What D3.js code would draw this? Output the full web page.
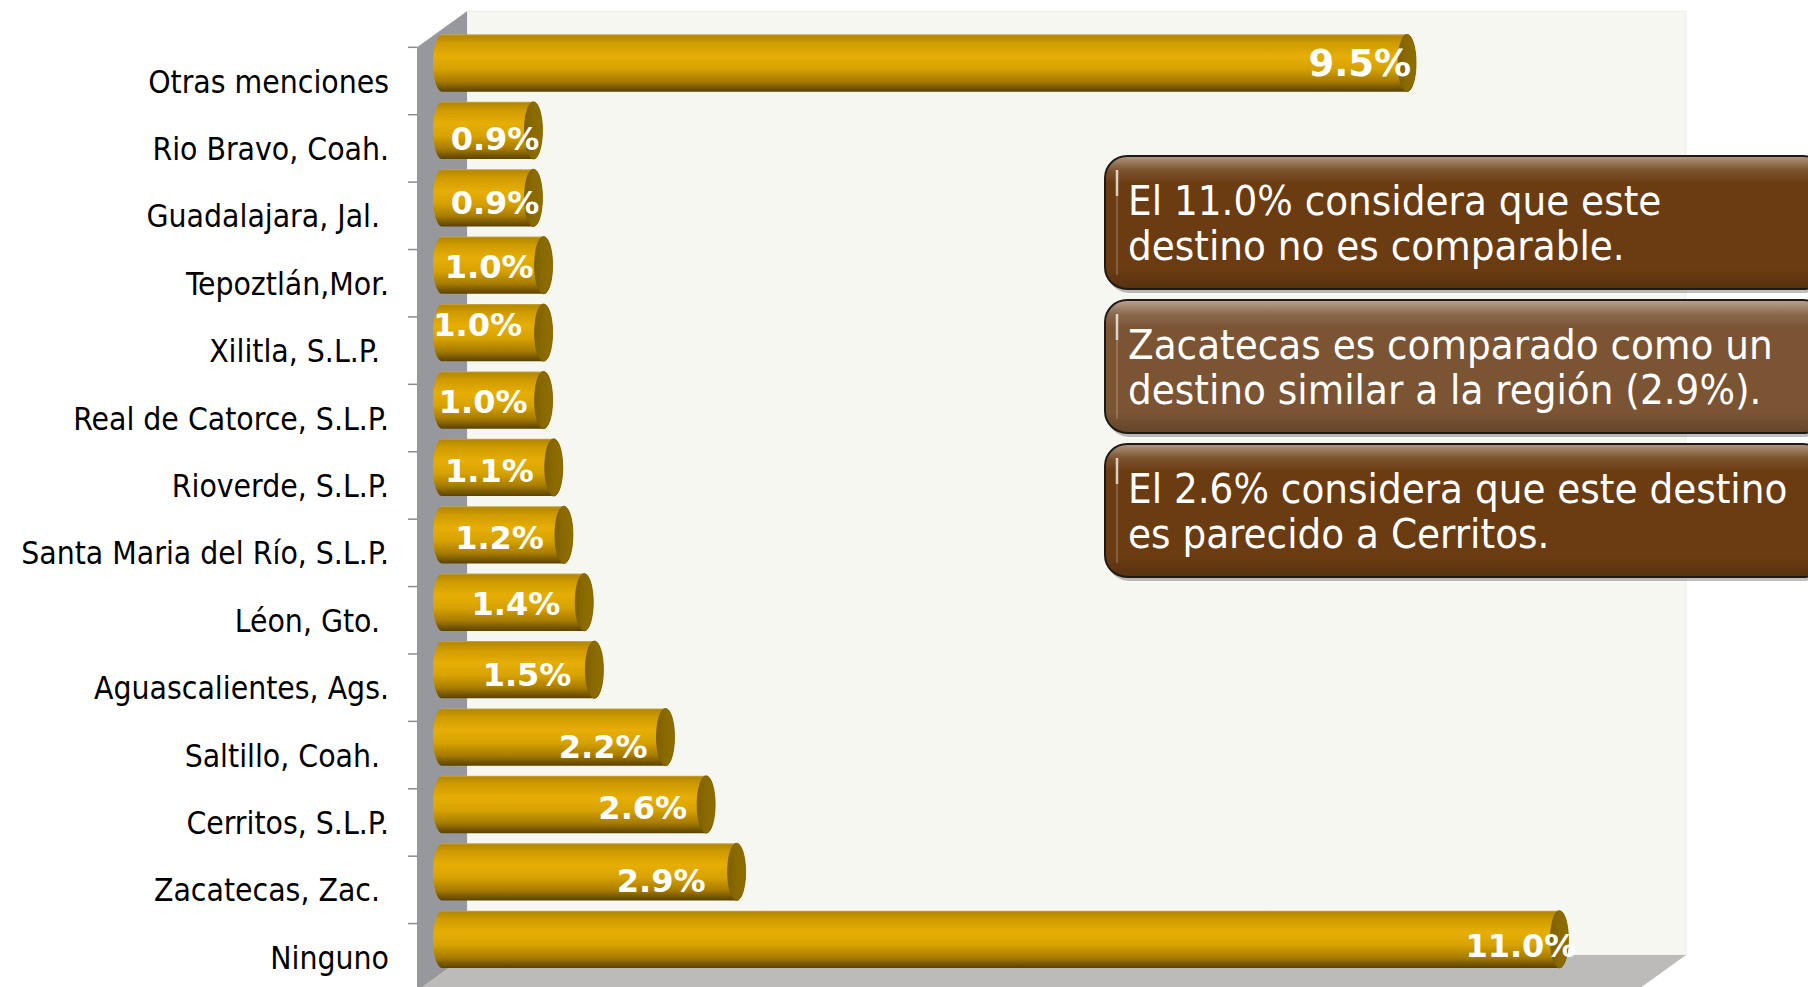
<!DOCTYPE html>
<html>
<head>
<meta charset="utf-8">
<script src="https://cdn.jsdelivr.net/npm/d3@7"></script>
<style>
  html, body { margin: 0; padding: 0; background: #ffffff; }
  svg { display: block; }
  text { white-space: pre; }
</style>
</head>
<body>
<svg id="chart" width="1808" height="987"></svg>
<script>
// ---------- data ----------
const categories = [
  "Otras menciones",
  "Rio Bravo, Coah.",
  "Guadalajara, Jal. ",
  "Tepoztlán,Mor.",
  "Xilitla, S.L.P. ",
  "Real de Catorce, S.L.P.",
  "Rioverde, S.L.P.",
  "Santa Maria del Río, S.L.P.",
  "Léon, Gto. ",
  "Aguascalientes, Ags.",
  "Saltillo, Coah. ",
  "Cerritos, S.L.P.",
  "Zacatecas, Zac. ",
  "Ninguno"
];
const values = [9.5, 0.9, 0.9, 1.0, 1.0, 1.0, 1.1, 1.2, 1.4, 1.5, 2.2, 2.6, 2.9, 11.0];
const valueLabels = values.map(v => v.toFixed(1) + "%");
const xDomain = [0, 12];
const notes = [
  ["El 11.0% considera que este", "destino no es comparable."],
  ["Zacatecas es comparado como un", "destino similar a la región (2.9%)."],
  ["El 2.6% considera que este destino", "es parecido a Cerritos."]
];

// ---------- layout (positions / styles, not data) ----------
const labelNudge = [[4,-0.3],[6,7.6],[6,4.5],[-10,1],[-21.6,-8],[-16,1.5],[-20,3],[-20,2.5],[-24,1],[-23,5],[-18,9],[-19,3],[-31,8],[17,5.6]];
const labelSize = [37,32,32,32,32,32,32,32,32,32,32,32,32,32];
const noteFill = ["#6b3c12", "#7b5434", "#6b3c12"];
const depthX = 50, depthY = -36;

const svg = d3.select("#chart");
const defs = svg.append("defs");

const x = d3.scaleLinear().domain(xDomain).range([442, 1661]);
const y = d3.scaleBand().domain(categories).range([47.3, 991]).padding(0);
const bw = y.bandwidth();
const barH = bw * 0.85;
const rx = 9;

// gradients
const gBar = defs.append("linearGradient").attr("id", "gBar").attr("x1", 0).attr("y1", 0).attr("x2", 0).attr("y2", 1);
[[0, "#c9a54a"], [0.03, "#b58800"], [0.15, "#cf9b00"], [0.38, "#e6ae05"], [0.6, "#d7a203"], [0.82, "#a77c00"], [1, "#5a4200"]]
  .forEach(([o, c]) => gBar.append("stop").attr("offset", o).attr("stop-color", c));
const gCap = defs.append("linearGradient").attr("id", "gCap").attr("x1", 0).attr("y1", 0).attr("x2", 1).attr("y2", 0);
[[0, "#7d6000"], [0.5, "#8a6a00"], [1, "#8f6e02"]].forEach(([o, c]) => gCap.append("stop").attr("offset", o).attr("stop-color", c));
const gHi = defs.append("linearGradient").attr("id", "gHi").attr("x1", 0).attr("y1", 0).attr("x2", 0).attr("y2", 1);
[[0, "rgba(255,255,255,0.45)"], [0.1, "rgba(255,255,255,0.12)"], [0.2, "rgba(255,255,255,0)"], [0.85, "rgba(0,0,0,0)"], [1, "rgba(0,0,0,0.18)"]]
  .forEach(([o, c]) => gHi.append("stop").attr("offset", o).attr("stop-color", c));

// ---------- walls ----------
const xL = x(xDomain[0]) - depthX / 2, xR = x(xDomain[1]) - depthX / 2;   // front plane
const yT = y.range()[0], yB = y.range()[1];
const line = d3.line();
// back wall
svg.append("path").attr("d", line([[xL + depthX, yT + depthY], [xR + depthX, yT + depthY], [xR + depthX, yB + depthY], [xL + depthX, yB + depthY]]) + "Z")
  .attr("fill", "#f7f7f2").attr("stroke", "#ecece6").attr("stroke-width", 1);
// side wall
svg.append("path").attr("d", line([[xL, yT], [xL + depthX, yT + depthY], [xL + depthX, yB + depthY], [xL, yB]]) + "Z")
  .attr("fill", "#97989d");
// floor
svg.append("path").attr("d", line([[xL, yB], [xL + depthX, yB + depthY], [xR + depthX, yB + depthY], [xR, yB]]) + "Z")
  .attr("fill", "#bcbbb9");

// ticks at band boundaries
const tickYs = categories.map(c => y(c)).concat([yB]);
svg.append("g").selectAll("line").data(tickYs).join("line")
  .attr("x1", xL - 9).attr("x2", xL).attr("y1", d => d).attr("y2", d => d)
  .attr("stroke", "#8c8c8c").attr("stroke-width", 1.5);

// category labels
svg.append("g").selectAll("text").data(categories).join("text")
  .attr("x", xL - 28)
  .attr("y", d => y(d) + bw / 2 + 11.5)
  .attr("text-anchor", "end")
  .attr("font-family", "'DejaVu Sans Condensed', 'DejaVu Sans', sans-serif")
  .attr("font-size", 31.6)
  .attr("fill", "#000")
  .text(d => d);

// ---------- bars (cylinders) ----------
const bars = svg.append("g");
categories.forEach((c, i) => {
  const cy = y(c) + bw / 2 + depthY / 2;
  const y0 = cy - barH / 2, y1 = cy + barH / 2;
  const x0 = x(0), x1 = x(values[i]);
  const ry = barH / 2;
  const d = `M${x0},${y0} L${x1},${y0} A${rx},${ry} 0 0 1 ${x1},${y1} L${x0},${y1} A${rx},${ry} 0 0 1 ${x0},${y0} Z`;
  bars.append("path").attr("d", d).attr("fill", "url(#gBar)");
  bars.append("ellipse").attr("cx", x1).attr("cy", cy).attr("rx", rx).attr("ry", ry)
    .attr("fill", "url(#gCap)").attr("stroke", "#7a5d00").attr("stroke-width", 0.8);
});

// value labels
svg.append("g").selectAll("text").data(values).join("text")
  .attr("x", (v, i) => x(v) + labelNudge[i][0])
  .attr("y", (v, i) => y(categories[i]) + bw / 2 + depthY / 2 + labelNudge[i][1] + labelSize[i] * 0.3645)
  .attr("text-anchor", "end")
  .attr("font-family", "'DejaVu Sans', sans-serif")
  .attr("font-weight", "bold")
  .attr("font-size", (v, i) => labelSize[i])
  .attr("fill", "#ffffff")
  .text((v, i) => valueLabels[i]);

// ---------- note boxes ----------
const boxTop = [156, 300, 444];
const boxH = 133;
const nb = svg.append("g");
notes.forEach((lines, i) => {
  const bx = 1105, by = boxTop[i], bwid = 720;
  nb.append("rect").attr("x", bx + 2).attr("y", by + 4).attr("width", bwid).attr("height", boxH).attr("rx", 22)
    .attr("fill", "rgba(0,0,0,0.25)");
  nb.append("rect").attr("x", bx).attr("y", by).attr("width", bwid).attr("height", boxH).attr("rx", 22)
    .attr("fill", noteFill[i]).attr("stroke", "#1d1a17").attr("stroke-width", 2);
  nb.append("rect").attr("x", bx + 1).attr("y", by + 1).attr("width", bwid - 2).attr("height", boxH - 2).attr("rx", 21)
    .attr("fill", "url(#gHi)");
  nb.append("line").attr("x1", bx + 12).attr("x2", bx + 12).attr("y1", by + 14).attr("y2", by + 40)
    .attr("stroke", "rgba(255,255,255,0.75)").attr("stroke-width", 2.5);
  nb.append("line").attr("x1", bx + 12).attr("x2", bx + 12).attr("y1", by + 40).attr("y2", by + boxH - 14)
    .attr("stroke", "rgba(255,255,255,0.25)").attr("stroke-width", 1.5);
  lines.forEach((t, j) => {
    nb.append("text").attr("x", bx + 23).attr("y", by + 59 + j * 45)
      .attr("font-family", "'DejaVu Sans Condensed', 'DejaVu Sans', sans-serif")
      .attr("font-size", 41.6).attr("fill", "#ffffff").text(t);
  });
});
</script>
</body>
</html>
